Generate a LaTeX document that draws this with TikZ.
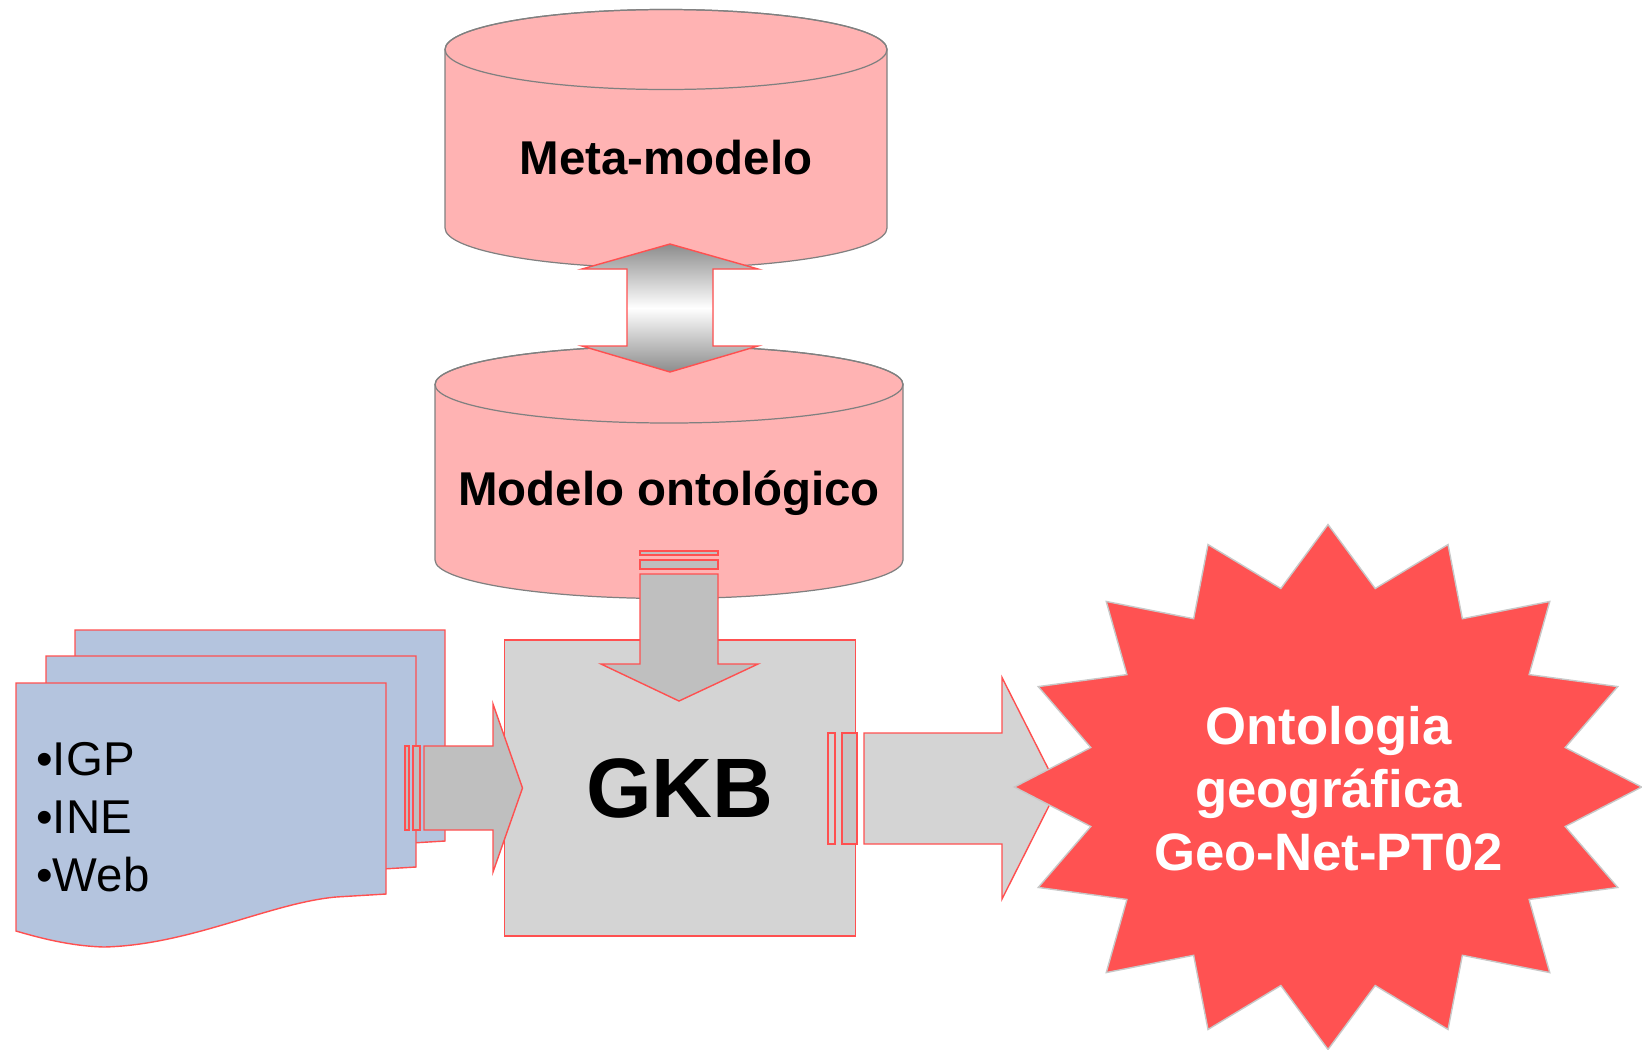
\documentclass[tikz,border=0pt]{standalone}
\usepackage{fontspec}
\setmainfont{Liberation Sans}
\usetikzlibrary{shapes.geometric}
\usepackage{xcolor}

\definecolor{cylpink}{HTML}{FFB3B3}
\definecolor{cylgray}{HTML}{808080}
\definecolor{edgered}{HTML}{FF5050}
\definecolor{boxgray}{HTML}{D4D4D4}
\definecolor{arrowgray}{HTML}{BFBFBF}
\definecolor{stripegray}{HTML}{C4C4C4}
\definecolor{docblue}{HTML}{B4C4DE}
\definecolor{burstred}{HTML}{FF5252}
\definecolor{burstedge}{HTML}{C8C8C8}

\begin{document}
\begin{tikzpicture}[x=0.02cm, y=-0.02cm,
          cyl/.style={fill=cylpink, draw=cylgray, line width=0.7pt},
          cyltext/.style={font=\fontsize{27}{33}\selectfont\bfseries, inner sep=0pt},
          doc/.style={fill=docblue, draw=edgered, line width=0.8pt},
          blockarrow/.style={fill=arrowgray, draw=edgered, line width=0.8pt, line join=miter},
          lightarrow/.style={blockarrow, fill=boxgray},
          gkbbox/.style={fill=boxgray, draw=edgered, line width=0.8pt,
                         minimum width=7.02cm, minimum height=5.92cm, inner sep=0pt,
                         font=\fontsize{48}{56}\selectfont\bfseries}]
\useasboundingbox (0,0) rectangle (1642,1049);

% Meta-modelo
\filldraw[cyl] (445,49.5) -- (445,228) arc[start angle=180, end angle=0, x radius=221, y radius=40]
      -- (887,49.5) arc[start angle=0, end angle=-180, x radius=221, y radius=40] -- cycle;
\draw[cyl, fill=none] (666,49.5) ellipse[x radius=221, y radius=40];
\node[cyltext, anchor=base] (meta) at (666,174) {Meta-modelo};

% Modelo ontologico
\filldraw[cyl] (435,384.5) -- (435,560) arc[start angle=180, end angle=0, x radius=234, y radius=38.5]
      -- (903,384.5) arc[start angle=0, end angle=-180, x radius=234, y radius=38.5] -- cycle;
\draw[cyl, fill=none] (669,384.5) ellipse[x radius=234, y radius=38.5];
\node[cyltext, anchor=base] (modelo) at (669,505) {Modelo ontológico};

% up/down arrow between the models
\draw[blockarrow, top color=black!45, bottom color=black!45, middle color=white]
      (670,244) -- (758,269) -- (713,269) -- (713,346) -- (758,346) -- (670,372)
      -- (582,346) -- (627,346) -- (627,269) -- (582,269) -- cycle;

% sources
\filldraw[doc, shift={(59,-53)}] (16,683) -- (386,683) -- (386,894) -- (336,897)
      .. controls (270,903) and (190,945) .. (104,947) .. controls (70,946) and (40,938) .. (16,931) -- cycle;
\filldraw[doc, shift={(30,-27)}] (16,683) -- (386,683) -- (386,894) -- (336,897)
      .. controls (270,903) and (190,945) .. (104,947) .. controls (70,946) and (40,938) .. (16,931) -- cycle;
\filldraw[doc] (16,683) -- (386,683) -- (386,894) -- (336,897)
      .. controls (270,903) and (190,945) .. (104,947) .. controls (70,946) and (40,938) .. (16,931) -- cycle;
\node[anchor=north west, align=left, inner sep=0pt, font=\fontsize{27}{33}\selectfont] (fontes)
      at (36,742) {•IGP\\•INE\\•Web};

% GKB
\node[gkbbox] (gkb) at (680,788) {GKB};

% modelo -> GKB
\filldraw[blockarrow] (640,551) rectangle (718,555);
\filldraw[blockarrow] (640,560) rectangle (718,569);
\filldraw[blockarrow] (640,574) -- (718,574) -- (718,664) -- (758,664) -- (679,701)
      -- (601,664) -- (640,664) -- cycle;

% fontes -> GKB
\filldraw[blockarrow] (405,746) rectangle (409,830);
\filldraw[blockarrow] (413,746) rectangle (420,830);
\filldraw[blockarrow] (424,746) -- (493,746) -- (493,704) -- (522.5,788) -- (493,872)
      -- (493,830) -- (424,830) -- cycle;

% GKB -> ontologia
\filldraw[lightarrow] (828,733) rectangle (835,844);
\filldraw[blockarrow, fill=stripegray] (842,733) rectangle (857,844);
\filldraw[lightarrow] (864,733) -- (1002,733) -- (1002,677.5) -- (1058,788) -- (1002,899)
      -- (1002,844) -- (864,844) -- cycle;

% Ontologia
\node[star, star points=16, star point ratio=1.297, minimum size=10.5cm, inner sep=0pt,
      fill=burstred, draw=burstedge, line width=0.8pt, xscale=1.195] (burst) at (1328,787) {};
\node[align=center, inner sep=0pt, text=white, font=\fontsize{30}{35.9}\selectfont\bfseries]
      (onto) at (1328.5,789) {Ontologia\\geográfica\\Geo-Net-PT02};
\end{tikzpicture}
\end{document}
